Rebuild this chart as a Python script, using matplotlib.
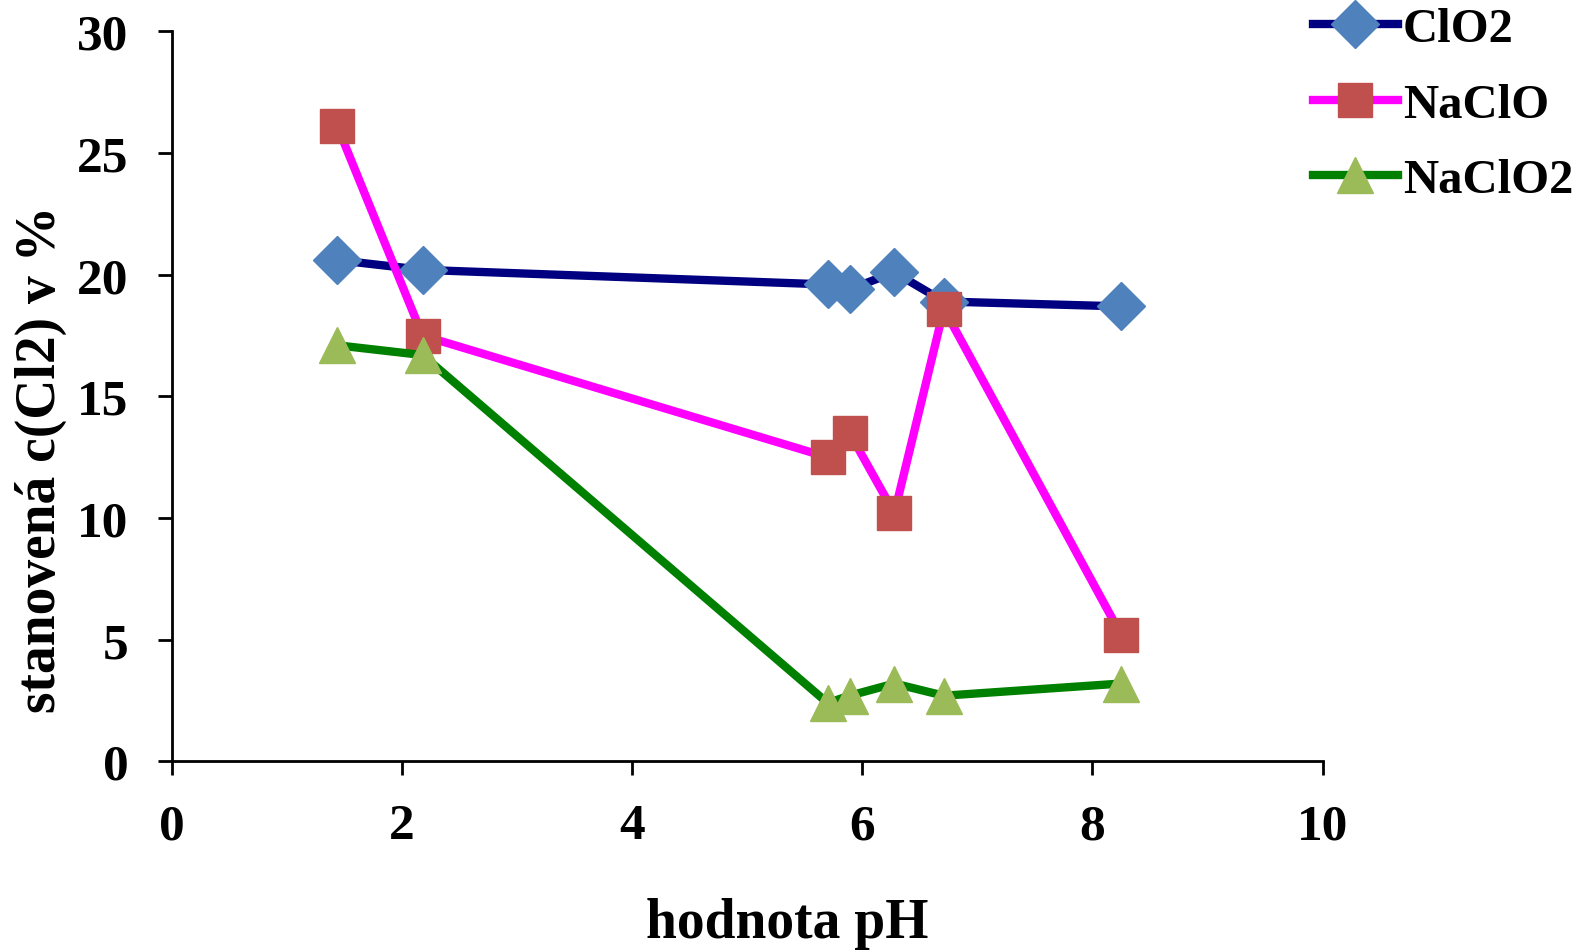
import matplotlib.pyplot as plt
import numpy as np

plt.rcParams['font.family'] = ['Liberation Serif', 'DejaVu Serif']
plt.rcParams['font.weight'] = 'bold'

# data
ph = [1.44, 2.18, 5.70, 5.89, 6.28, 6.71, 8.25]
clo2 = [20.6, 20.2, 19.6, 19.4, 20.1, 18.9, 18.7]
naclo = [26.1, 17.5, 12.5, 13.5, 10.2, 18.6, 5.2]
naclo2 = [17.1, 16.7, 2.4, 2.7, 3.2, 2.7, 3.2]

fig = plt.figure(figsize=(15.83, 9.53), dpi=100)
ax = fig.add_axes([0.1084, 0.200, 0.7271, 0.766])

ax.plot(ph, clo2, color='#000080', lw=6, marker='D', ms=24,
        mfc='#4f81bd', mec='#4f81bd', label='ClO2', zorder=3)
ax.plot(ph, naclo, color='#ff00ff', lw=6, marker='s', ms=24,
        mfc='#c0504d', mec='#c0504d', label='NaClO', zorder=4)
ax.plot(ph, naclo2, color='#008000', lw=6, marker='^', ms=26,
        mfc='#9bbb59', mec='#9bbb59', label='NaClO2', zorder=5)

ax.set_xlim(0, 10)
ax.set_ylim(0, 30)
ax.set_xticks(np.arange(0, 11, 2))
ax.set_yticks(np.arange(0, 31, 5))
for s in ['top', 'right']:
    ax.spines[s].set_visible(False)
for s in ['left', 'bottom']:
    ax.spines[s].set_linewidth(2)
ax.tick_params(direction='out', length=10, width=2, labelsize=37)
ax.tick_params(axis='y', pad=21)
ax.tick_params(axis='x', pad=20)
for lab in ax.get_xticklabels() + ax.get_yticklabels():
    lab.set_fontweight('bold')

fig.text(0.497, 0.03, 'hodnota pH', ha='center', va='center', fontsize=40, fontweight='bold')
fig.text(0.026, 0.518, 'stanovená c(Cl2) v %', ha='center', va='center',
         rotation=90, fontsize=40, fontweight='bold')

ax.legend(loc='upper left', bbox_to_anchor=(0.817, 1.012), bbox_transform=fig.transFigure,
          frameon=False, prop={'size': 35, 'weight': 'bold'}, handlelength=1.75,
          handletextpad=0.1, labelspacing=0.65, borderaxespad=0)

fig.savefig('out.png', dpi=100)
